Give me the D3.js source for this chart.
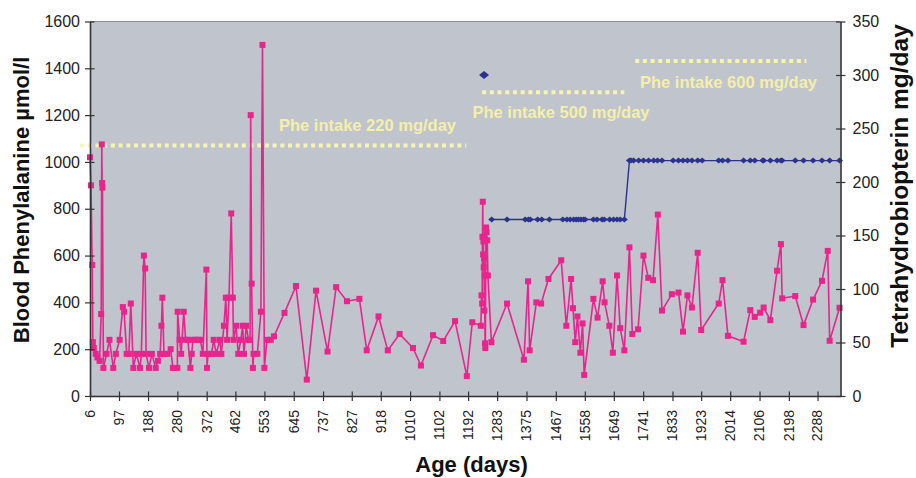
<!DOCTYPE html>
<html>
<head>
<meta charset="utf-8">
<script src="https://cdn.jsdelivr.net/npm/d3@7"></script>
<style>
  body { margin: 0; background: #ffffff; }
  svg { display: block; font-family: "Liberation Sans", Arial, sans-serif; }
</style>
</head>
<body>
<svg></svg>
<script>
//Blood phenylalanine (umol/l) by age in days
let pheDays = [6, 9, 13, 15, 18, 24, 29, 36, 41, 43, 44, 45, 48, 58, 67, 79, 87, 99, 109, 113,
  121, 128, 134, 142, 151, 163, 167, 175, 179, 182, 191, 200, 212, 219, 226, 230, 233, 238, 249, 259,
  266, 280, 281, 287, 292, 300, 306, 313, 321, 325, 329, 337, 345, 352, 360, 371, 373, 376, 387, 394,
  402, 413, 418, 426, 432, 436, 442, 449, 454, 456, 464, 471, 479, 485, 489, 496, 503, 508, 510, 513,
  517, 519, 531, 542, 547, 553, 561, 573, 583, 616, 652, 686, 715, 751, 778, 812, 851, 874, 911, 940,
  977, 1019, 1044, 1082, 1114, 1151, 1188, 1205, 1232, 1234, 1236, 1237, 1238, 1239, 1240, 1241, 1242, 1243, 1244, 1245,
  1246, 1248, 1250, 1252, 1254, 1265, 1314, 1367, 1380, 1385, 1406, 1421, 1444, 1484, 1500, 1515, 1521, 1528, 1535, 1544,
  1551, 1556, 1585, 1598, 1614, 1620, 1635, 1646, 1659, 1669, 1682, 1698, 1707, 1725, 1742, 1757, 1772, 1787, 1800, 1831,
  1852, 1866, 1880, 1894, 1912, 1923, 1978, 1990, 2007, 2056, 2077, 2091, 2108, 2119, 2140, 2161, 2173, 2177, 2218, 2244,
  2274, 2302, 2320, 2326, 2357];
let pheValues = [1020, 900, 560, 230, 205, 180, 165, 150, 350, 1075, 910, 890, 120, 180, 240, 120, 180, 240, 380, 360,
  180, 180, 395, 120, 180, 120, 180, 600, 545, 180, 120, 180, 120, 150, 180, 300, 420, 180, 180, 200,
  120, 120, 360, 240, 180, 360, 240, 240, 120, 180, 240, 240, 240, 240, 180, 540, 120, 180, 180, 240,
  180, 240, 180, 300, 420, 240, 420, 780, 420, 240, 300, 180, 240, 300, 180, 300, 240, 240, 1200, 480,
  120, 180, 180, 360, 1500, 120, 240, 240, 255, 355, 470, 70, 450, 190, 465, 405, 415, 195, 340, 195,
  265, 205, 130, 260, 235, 320, 85, 315, 300, 430, 395, 680, 830, 605, 660, 550, 590, 365, 515, 225,
  205, 720, 700, 665, 515, 230, 395, 155, 490, 195, 400, 395, 500, 580, 300, 500, 375, 230, 340, 185,
  310, 90, 415, 335, 490, 400, 300, 185, 515, 290, 195, 635, 265, 285, 600, 505, 495, 775, 365, 435,
  442, 275, 430, 378, 612, 282, 395, 495, 257, 232, 367, 338, 356, 378, 324, 535, 649, 417, 427, 303,
  412, 492, 620, 236, 377];

//Tetrahydrobiopterin dose (mg/day); null marks the gap after the single first dose
let bh4Days = [1242, 1254, 1266, 1314, 1371, 1381, 1387, 1410, 1423, 1447, 1489, 1502, 1512, 1523, 1531, 1538,
  1546, 1554, 1559, 1585, 1596, 1612, 1619, 1636, 1648, 1659, 1669, 1682, 1698, 1703, 1711, 1727, 1742, 1758,
  1774, 1786, 1800, 1835, 1852, 1866, 1880, 1894, 1912, 1926, 1978, 1990, 2007, 2056, 2077, 2091, 2116, 2119,
  2140, 2161, 2173, 2177, 2218, 2244, 2274, 2302, 2326, 2357];
let bh4Doses = [300, null, 165, 165, 165, 165, 165, 165, 165, 165, 165, 165, 165, 165, 165, 165,
  165, 165, 165, 165, 165, 165, 165, 165, 165, 165, 165, 165, 220, 220, 220, 220, 220, 220,
  220, 220, 220, 220, 220, 220, 220, 220, 220, 220, 220, 220, 220, 220, 220, 220, 220, 220,
  220, 220, 220, 220, 220, 220, 220, 220, 220, 220];

//Phe intake periods (days) and labels
let intakeStart = [-25, 1236, 1716];
let intakeEnd = [1186, 1682, 2253];
let intakeLabels = ['Phe intake 220 mg/day', 'Phe intake 500 mg/day', 'Phe intake 600 mg/day'];

//Tick labels
let xTicks = [6, 97, 188, 280, 372, 462, 553, 645, 737, 827, 918, 1010, 1102, 1192, 1283, 1375, 1467, 1558, 1649, 1741, 1833, 1923, 2014, 2106, 2198, 2288];
let leftTicks = [0, 200, 400, 600, 800, 1000, 1200, 1400, 1600];
let rightTicks = [0, 50, 100, 150, 200, 250, 300, 350];

//Canvas and plot area
let canvas = { width: 916, height: 478 };
let plot = { left: 90, right: 840.5, top: 21.5, bottom: 396 };

//Annotation placement (pixels)
let intakeLineY = [145.5, 92.3, 61];
let intakeTextX = [279, 472.5, 640];
let intakeTextY = [131, 117.5, 88];

let pink = '#e8258d';
let navy = '#2b3190';
let paleYellow = '#f7f3b0';

let svg = d3.select('svg');
let xScale, yLeft, yRight;
let plainFormat = d3.format('d');

function drawCanvas() {
  svg.attr('width', canvas.width).attr('height', canvas.height);

  svg.append('rect')
    .attr('x', plot.left)
    .attr('y', plot.top)
    .attr('width', plot.right - plot.left)
    .attr('height', plot.bottom - plot.top)
    .attr('fill', '#c0c4cc');

  //thin top border
  svg.append('line')
    .attr('x1', plot.left).attr('x2', plot.right)
    .attr('y1', plot.top).attr('y2', plot.top)
    .attr('stroke', '#8c8c8c')
    .attr('stroke-width', 1.2);
}

function generateScales() {
  xScale = d3.scaleLinear().domain([6, 2360]).range([plot.left, plot.right]);
  yLeft = d3.scaleLinear().domain([0, 1600]).range([plot.bottom, plot.top]);
  yRight = d3.scaleLinear().domain([0, 350]).range([plot.bottom, plot.top]);
}

function styleAxis(g) {
  g.select('.domain').attr('stroke', '#333').attr('stroke-width', 1.6);
  g.selectAll('.tick line').attr('stroke', '#333').attr('stroke-width', 1.2);
  g.selectAll('.tick text').attr('fill', '#222');
}

function generateAxes() {
  //left axis
  let leftAxis = d3.axisLeft(yLeft).tickValues(leftTicks).tickFormat(plainFormat)
    .tickSize(5).tickSizeOuter(0).tickPadding(5);
  let gl = svg.append('g')
    .attr('transform', 'translate(' + plot.left + ',0)')
    .call(leftAxis)
    .style('font-size', '16px');
  gl.selectAll('.tick line').attr('x1', 4.5);
  styleAxis(gl);

  //right axis
  let rightAxis = d3.axisRight(yRight).tickValues(rightTicks).tickFormat(plainFormat)
    .tickSize(5).tickSizeOuter(0).tickPadding(7);
  let gr = svg.append('g')
    .attr('transform', 'translate(' + plot.right + ',0)')
    .call(rightAxis)
    .style('font-size', '16px');
  gr.selectAll('.tick line').attr('x1', -4.5);
  styleAxis(gr);

  //bottom axis, labels rotated
  let bottomAxis = d3.axisBottom(xScale).tickValues(xTicks).tickSize(5).tickSizeOuter(0).tickFormat('');
  let gb = svg.append('g')
    .attr('transform', 'translate(0,' + plot.bottom + ')')
    .call(bottomAxis);
  gb.selectAll('.tick line').attr('y1', -4.5);
  styleAxis(gb);

  svg.append('g')
    .selectAll('text')
    .data(xTicks)
    .enter()
    .append('text')
    .attr('transform', (d) => 'translate(' + xScale(d) + ',410) rotate(-90)')
    .attr('text-anchor', 'end')
    .attr('dy', '0.35em')
    .attr('fill', '#222')
    .style('font-size', '14px')
    .text((d) => plainFormat(d));
}

function drawTitles() {
  svg.append('text')
    .attr('transform', 'translate(29,200) rotate(-90)')
    .attr('text-anchor', 'middle')
    .style('font-size', '22px')
    .style('font-weight', 'bold')
    .attr('fill', '#111')
    .text('Blood Phenylalanine \u00b5mol/l');

  svg.append('text')
    .attr('transform', 'translate(908,186) rotate(-90)')
    .attr('text-anchor', 'middle')
    .style('font-size', '24.5px')
    .style('font-weight', 'bold')
    .attr('fill', '#111')
    .text('Tetrahydrobiopterin mg/day');

  svg.append('text')
    .attr('x', 471.5)
    .attr('y', 472)
    .attr('text-anchor', 'middle')
    .style('font-size', '22px')
    .style('font-weight', 'bold')
    .attr('fill', '#111')
    .text('Age (days)');
}

function drawIntake() {
  let g = svg.append('g');
  intakeLabels.forEach((label, i) => {
    g.append('line')
      .attr('x1', xScale(intakeStart[i]))
      .attr('x2', xScale(intakeEnd[i]))
      .attr('y1', intakeLineY[i])
      .attr('y2', intakeLineY[i])
      .attr('stroke', paleYellow)
      .attr('stroke-width', 4)
      .attr('stroke-dasharray', '4,3.7');

    g.append('text')
      .attr('x', intakeTextX[i])
      .attr('y', intakeTextY[i])
      .attr('fill', '#f4efaa')
      .style('font-size', '16.5px')
      .style('font-weight', 'bold')
      .text(label);
  });
}

function drawGraph() {
  //Phe series
  let phe = pheDays.map((d, i) => ({ day: d, value: pheValues[i] }));
  let pheLine = d3.line().x((d) => xScale(d.day)).y((d) => yLeft(d.value));

  svg.append('path')
    .datum(phe)
    .attr('d', pheLine)
    .attr('fill', 'none')
    .attr('stroke', pink)
    .attr('stroke-width', 1.6);

  svg.append('g')
    .selectAll('rect')
    .data(phe)
    .enter()
    .append('rect')
    .attr('x', (d) => xScale(d.day) - 3)
    .attr('y', (d) => yLeft(d.value) - 3)
    .attr('width', 6)
    .attr('height', 6)
    .attr('fill', pink);

  //BH4 series
  let bh4 = bh4Days.map((d, i) => ({ day: d, value: bh4Doses[i] }));
  let bh4Line = d3.line()
    .defined((d) => d.value !== null)
    .x((d) => xScale(d.day))
    .y((d) => yRight(d.value));

  svg.append('path')
    .datum(bh4)
    .attr('d', bh4Line)
    .attr('fill', 'none')
    .attr('stroke', navy)
    .attr('stroke-width', 1.4);

  svg.append('g')
    .selectAll('path')
    .data(bh4.filter((d) => d.value !== null))
    .enter()
    .append('path')
    .attr('transform', (d) => 'translate(' + xScale(d.day) + ',' + yRight(d.value) + ')')
    .attr('d', (d, i) => i === 0 ? 'M-5,0L0,-4L5,0L0,4Z' : 'M-3.5,0L0,-3L3.5,0L0,3Z')
    .attr('fill', navy);
}

//Main
drawCanvas();
generateScales();
drawIntake();
drawGraph();
generateAxes();
drawTitles();
</script>
</body>
</html>
